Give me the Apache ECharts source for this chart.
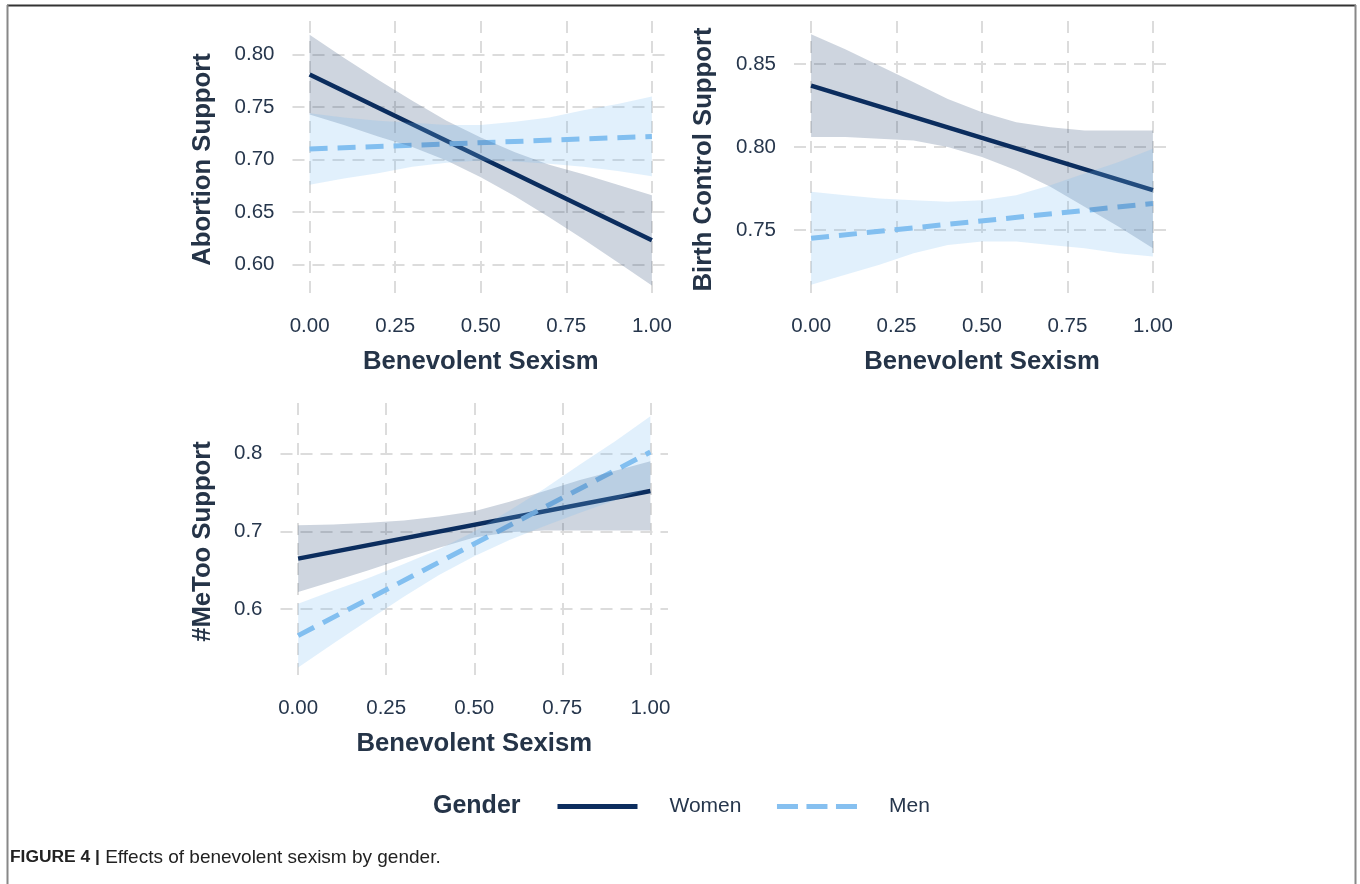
<!DOCTYPE html>
<html>
<head>
<meta charset="utf-8">
<script src="https://cdn.jsdelivr.net/npm/echarts@6/dist/echarts.min.js"></script>
<style>
html,body{margin:0;padding:0;background:#fff;}
#chart{width:1360px;height:884px;}
</style>
</head>
<body>
<div id="chart"></div>
<script>
// ---------- data ----------
const seriesNames = ['Women', 'Men'];
const xTicks = [0, 0.25, 0.5, 0.75, 1];
const xTickLabels = ['0.00', '0.25', '0.50', '0.75', '1.00'];
const bandX = [0, 0.1, 0.2, 0.3, 0.4, 0.5, 0.6, 0.7, 0.8, 0.9, 1.0];
const lineX = [0, 1];

// Panel 1: Abortion Support
const abYTicks = [0.60, 0.65, 0.70, 0.75, 0.80];
const abYTickLabels = ['0.60', '0.65', '0.70', '0.75', '0.80'];
const abWomenLine = [0.781, 0.623];
const abWomenUpper = [0.819, 0.797, 0.776, 0.756, 0.737, 0.721, 0.707, 0.695, 0.686, 0.676, 0.666];
const abWomenLower = [0.743, 0.733, 0.722, 0.712, 0.699, 0.683, 0.665, 0.645, 0.624, 0.602, 0.580];
const abMenLine = [0.710, 0.722];
const abMenUpper = [0.744, 0.740, 0.737, 0.735, 0.733, 0.733, 0.736, 0.740, 0.747, 0.753, 0.760];
const abMenLower = [0.676, 0.682, 0.687, 0.693, 0.697, 0.699, 0.698, 0.696, 0.693, 0.689, 0.684];

// Panel 2: Birth Control Support
const bcYTicks = [0.75, 0.80, 0.85];
const bcYTickLabels = ['0.75', '0.80', '0.85'];
const bcWomenLine = [0.837, 0.774];
const bcWomenUpper = [0.868, 0.859, 0.849, 0.839, 0.829, 0.821, 0.815, 0.812, 0.810, 0.810, 0.810];
const bcWomenLower = [0.806, 0.806, 0.805, 0.804, 0.800, 0.794, 0.786, 0.776, 0.764, 0.752, 0.739];
const bcMenLine = [0.745, 0.766];
const bcMenUpper = [0.773, 0.771, 0.769, 0.768, 0.767, 0.768, 0.771, 0.777, 0.784, 0.791, 0.799];
const bcMenLower = [0.717, 0.723, 0.729, 0.736, 0.741, 0.743, 0.743, 0.741, 0.739, 0.736, 0.734];

// Panel 3: #MeToo Support
const mtYTicks = [0.6, 0.7, 0.8];
const mtYTickLabels = ['0.6', '0.7', '0.8'];
const mtWomenLine = [0.665, 0.752];
const mtWomenUpper = [0.708, 0.709, 0.711, 0.714, 0.719, 0.726, 0.738, 0.752, 0.766, 0.778, 0.790];
const mtWomenLower = [0.622, 0.636, 0.650, 0.665, 0.679, 0.692, 0.699, 0.701, 0.701, 0.701, 0.701];
const mtMenLine = [0.566, 0.802];
const mtMenUpper = [0.607, 0.624, 0.640, 0.658, 0.677, 0.700, 0.727, 0.755, 0.786, 0.816, 0.848];
const mtMenLower = [0.525, 0.556, 0.586, 0.616, 0.644, 0.668, 0.689, 0.707, 0.724, 0.740, 0.756];

const xTitle = 'Benevolent Sexism';
const yTitles = ['Abortion Support', 'Birth Control Support', '#MeToo Support'];
const legendTitle = 'Gender';
const captionBold = 'FIGURE 4 |';
const captionText = ' Effects of benevolent sexism by gender.';

// ---------- style ----------
const FONT = '"Liberation Sans", Arial, Helvetica, sans-serif';
const womenColor = '#0c2d5e';
const menColor = '#86c0f0';
const womenBand = 'rgba(12,45,94,0.2)';
const menBand = 'rgba(120,188,242,0.22)';
const titleColor = '#253448';
const tickColor = '#26364c';
const gridColor = '#dcdcdc';

const grids = [
  { left: 292.5, top: 21, width: 376.5, height: 277 },
  { left: 794, top: 21, width: 376, height: 277 },
  { left: 280.5, top: 403, width: 387.5, height: 277 }
];
const yRanges = [[0.568, 0.832], [0.709, 0.876], [0.509, 0.865]];
const yTickSets = [[abYTicks, abYTickLabels], [bcYTicks, bcYTickLabels], [mtYTicks, mtYTickLabels]];
const yNameGaps = [77, 77.5, 65];

const splitLineStyle = { show: true, lineStyle: { color: gridColor, width: 2, type: [12, 8] } };

const xAxes = grids.map((g, i) => ({
  type: 'value', gridIndex: i, min: -0.05, max: 1.05,
  axisLine: { show: false },
  axisTick: { show: false, customValues: xTicks },
  axisLabel: {
    customValues: xTicks, margin: 18, fontSize: 20.5, color: tickColor, fontFamily: FONT,
    formatter: v => xTickLabels[xTicks.indexOf(v)]
  },
  splitLine: splitLineStyle,
  name: xTitle, nameLocation: 'middle', nameGap: 51,
  nameTextStyle: { fontSize: 25.7, fontWeight: 'bold', color: titleColor, fontFamily: FONT }
}));

const yAxes = grids.map((g, i) => ({
  type: 'value', gridIndex: i, min: yRanges[i][0], max: yRanges[i][1],
  axisLine: { show: false },
  axisTick: { show: false, customValues: yTickSets[i][0] },
  axisLabel: {
    customValues: yTickSets[i][0], margin: 18, fontSize: 20.5, color: tickColor, fontFamily: FONT,
    formatter: v => yTickSets[i][1][yTickSets[i][0].indexOf(v)]
  },
  splitLine: splitLineStyle,
  name: yTitles[i], nameLocation: 'middle', nameGap: yNameGaps[i],
  nameTextStyle: { fontSize: 25.7, fontWeight: 'bold', color: titleColor, fontFamily: FONT }
}));

function lineSeries(name, idx, values, dashed) {
  return {
    type: 'line', name: name, xAxisIndex: idx, yAxisIndex: idx,
    data: lineX.map((x, k) => [x, values[k]]),
    symbol: 'none', silent: true, z: 2,
    lineStyle: { color: dashed ? menColor : womenColor, width: dashed ? 5 : 4.5, type: dashed ? [18, 10] : 'solid', cap: 'butt' },
    itemStyle: { color: dashed ? menColor : womenColor }
  };
}

function bandSeries(name, idx, lower, upper, fill) {
  return {
    type: 'custom', name: name, xAxisIndex: idx, yAxisIndex: idx, silent: true, z: 3,
    data: bandX.map((x, k) => [x, lower[k], upper[k]]),
    encode: { x: 0, y: [1, 2] },
    renderItem: function (params, api) {
      if (params.dataIndex !== 0) return null;
      const pts = [];
      for (let k = 0; k < bandX.length; k++) pts.push(api.coord([bandX[k], upper[k]]));
      for (let k = bandX.length - 1; k >= 0; k--) pts.push(api.coord([bandX[k], lower[k]]));
      return { type: 'polygon', shape: { points: pts }, style: { fill: fill, stroke: null } };
    }
  };
}

const series = [
  lineSeries('Women', 0, abWomenLine, false),
  lineSeries('Men', 0, abMenLine, true),
  lineSeries('Women', 1, bcWomenLine, false),
  lineSeries('Men', 1, bcMenLine, true),
  lineSeries('Women', 2, mtWomenLine, false),
  lineSeries('Men', 2, mtMenLine, true),
  bandSeries('Women band 1', 0, abWomenLower, abWomenUpper, womenBand),
  bandSeries('Men band 1', 0, abMenLower, abMenUpper, menBand),
  bandSeries('Women band 2', 1, bcWomenLower, bcWomenUpper, womenBand),
  bandSeries('Men band 2', 1, bcMenLower, bcMenUpper, menBand),
  bandSeries('Women band 3', 2, mtWomenLower, mtWomenUpper, womenBand),
  bandSeries('Men band 3', 2, mtMenLower, mtMenUpper, menBand)
];

const chart = echarts.init(document.getElementById('chart'), null, { renderer: 'canvas' });
chart.setOption({
  animation: false,
  backgroundColor: '#ffffff',
  textStyle: { fontFamily: FONT },
  grid: grids,
  xAxis: xAxes,
  yAxis: yAxes,
  title: [
    { text: legendTitle, left: 433, top: 794, padding: 0,
      textStyle: { fontSize: 25, fontWeight: 'bold', color: titleColor, fontFamily: FONT } },
    { text: '{b|' + captionBold + '}{r|' + captionText + '}', left: 10, top: 848, padding: 0,
      textStyle: { fontWeight: 'normal', rich: {
        b: { fontSize: 17.4, fontWeight: 'bold', color: '#222', fontFamily: FONT },
        r: { fontSize: 19, fontWeight: 'normal', color: '#222', fontFamily: FONT }
      } } }
  ],
  legend: {
    data: [
      { name: seriesNames[0], lineStyle: { width: 5, type: 'solid' } },
      { name: seriesNames[1], lineStyle: { width: 5, type: [21, 8.5] } }
    ],
    left: 555, top: 796, padding: 0,
    itemWidth: 80, itemHeight: 20, itemGap: 33, selectedMode: false,
    itemStyle: { opacity: 0, color: 'rgba(0,0,0,0)', borderWidth: 0 },
    lineStyle: { width: 5 },
    textStyle: { fontSize: 21, color: tickColor, fontFamily: FONT, padding: [0, 0, 0, 27] }
  },
  graphic: [
    { type: 'line', shape: { x1: 7, y1: 5.5, x2: 1356, y2: 5.5 }, style: { stroke: '#333', lineWidth: 2 }, silent: true },
    { type: 'line', shape: { x1: 7.5, y1: 5, x2: 7.5, y2: 884 }, style: { stroke: '#888', lineWidth: 2 }, silent: true },
    { type: 'line', shape: { x1: 1355.5, y1: 5, x2: 1355.5, y2: 884 }, style: { stroke: '#888', lineWidth: 2 }, silent: true }
  ],
  series: series
});
</script>
</body>
</html>
